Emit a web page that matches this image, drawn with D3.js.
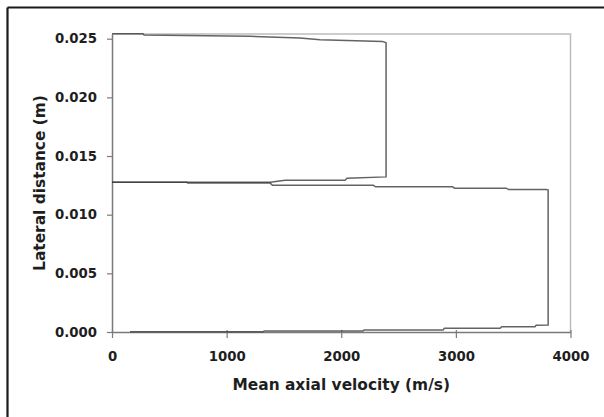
<!DOCTYPE html>
<html>
<head>
<meta charset="utf-8">
<script src="https://cdn.jsdelivr.net/npm/d3@7"></script>
<style>
  body { margin: 0; background: #fff; }
  svg text { font-family: "DejaVu Sans", Arial, sans-serif; font-weight: bold; fill: #1e1e1e; }
</style>
</head>
<body>
<svg id="chart" width="604" height="417"></svg>
<script>
// upper profile (outer layer)
var upperVel  = [0, 270, 280, 1200, 1640, 1815, 2360, 2391, 2391, 2050, 2033, 1510, 1380, 0];
var upperDist = [0.02543, 0.02543, 0.02532, 0.02521, 0.02506, 0.02491, 0.02477, 0.02466,
                 0.01322, 0.01311, 0.01294, 0.01294, 0.01277, 0.01277];
// lower profile (core)
var lowerVel  = [0, 654, 660, 1380, 1400, 2280, 2300, 2970, 2990, 3440, 3460, 3790, 3805,
                 3805, 3700, 3690, 3400, 3386, 2900, 2888, 2200, 2190, 1330, 1318, 157];
var lowerDist = [0.01277, 0.01277, 0.01269, 0.01269, 0.0125, 0.0125, 0.01237, 0.01237, 0.01226,
                 0.01226, 0.01214, 0.01214, 0.0121, 0.0006, 0.00058, 0.00045, 0.00045, 0.00032,
                 0.00032, 0.00017, 0.00017, 0.00009, 0.00009, 0.00003, 0.00003];
var xTicks = [0, 1000, 2000, 3000, 4000];
var yTicks = [0, 0.005, 0.010, 0.015, 0.020, 0.025];

var svg = d3.select('#chart');
const margin = {top: 34, right: 33.5, bottom: 85, left: 112};
const width = +svg.attr('width');
const height = +svg.attr('height');
const innerWidth = width - margin.left - margin.right;
const innerHeight = height - margin.top - margin.bottom;

// outer frame (only top and left visible)
svg.append('line').attr('x1', 7.5).attr('y1', 7.5).attr('x2', width).attr('y2', 7.5)
    .attr('stroke', '#1a1a1a').attr('stroke-width', 2.2);
svg.append('line').attr('x1', 7.5).attr('y1', 7.5).attr('x2', 7.5).attr('y2', height)
    .attr('stroke', '#1a1a1a').attr('stroke-width', 2.2);

var g = svg.append('g')
    .attr('transform', `translate(${margin.left}, ${margin.top})`);

var x = d3.scaleLinear().domain([0, 4000]).range([0, innerWidth]);
var y = d3.scaleLinear().domain([0, 0.0254]).range([innerHeight, 0]);

// plot border top/right
g.append('path')
    .attr('d', `M0,0H${innerWidth}V${innerHeight}`)
    .attr('fill', 'none').attr('stroke', '#bdbdbd').attr('stroke-width', 1.5);

// x axis
var xAxis = g.append('g')
    .attr('transform', `translate(0, ${innerHeight})`)
    .call(d3.axisBottom(x).tickValues(xTicks).tickFormat(d3.format('d'))
        .tickSizeInner(6).tickSizeOuter(0).tickPadding(14));
xAxis.selectAll('.tick line').attr('y1', -2);

// y axis
var yAxis = g.append('g')
    .call(d3.axisLeft(y).tickValues(yTicks).tickFormat(d3.format('.3f'))
        .tickSizeInner(5).tickSizeOuter(0).tickPadding(10));

svg.selectAll('.tick text')
    .attr('fill', '#1e1e1e')
    .style('font-family', '"DejaVu Sans", Arial, sans-serif')
    .style('font-size', '13.3px');
svg.selectAll('.domain').attr('stroke', '#7a7a7a').attr('stroke-width', 1.5);
svg.selectAll('.tick line').attr('stroke', '#7a7a7a').attr('stroke-width', 1.2);

// profiles
var line = d3.line().x(d => x(d[0])).y(d => y(d[1]));
[[upperVel, upperDist], [lowerVel, lowerDist]].forEach(function(s) {
    g.append('path')
        .datum(d3.zip(s[0], s[1]))
        .attr('d', line)
        .attr('fill', 'none')
        .attr('stroke', '#3c3c3c')
        .attr('stroke-opacity', 0.8)
        .attr('stroke-width', 1.5);
});

// axis titles
g.append('text')
    .attr('x', innerWidth / 2)
    .attr('y', innerHeight + 58)
    .attr('text-anchor', 'middle')
    .style('font-size', '15.4px')
    .text('Mean axial velocity (m/s)');

g.append('text')
    .attr('transform', `translate(-67, ${innerHeight / 2}) rotate(-90)`)
    .attr('text-anchor', 'middle')
    .style('font-size', '15.4px')
    .text('Lateral distance (m)');
</script>
</body>
</html>
